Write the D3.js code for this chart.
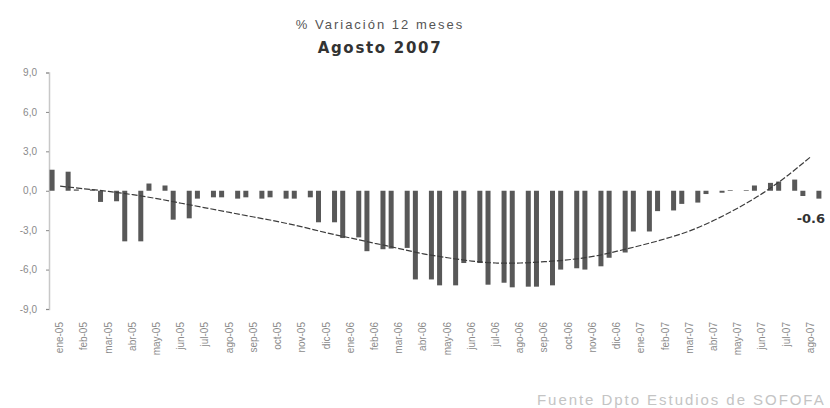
<!DOCTYPE html>
<html>
<head>
<meta charset="utf-8">
<script src="https://cdn.jsdelivr.net/npm/d3@7/dist/d3.min.js"></script>
<style>
  body { margin: 0; background: #fff; }
  svg { display: block; }
</style>
</head>
<body>
<svg id="chart" width="830" height="408"></svg>
<script>
// Months on the category axis
const months = [
  "ene-05","feb-05","mar-05","abr-05","may-05","jun-05","jul-05","ago-05",
  "sep-05","oct-05","nov-05","dic-05","ene-06","feb-06","mar-06","abr-06",
  "may-06","jun-06","jul-06","ago-06","sep-06","oct-06","nov-06","dic-06",
  "ene-07","feb-07","mar-07","abr-07","may-07","jun-07","jul-07","ago-07"
];

// % variación 12 meses, two bars per month
const serieA = [
   1.6,  0.1, -0.85, -3.85,  0.55, -2.2, -0.6, -0.5,
  -0.5, -0.5, -0.6,  -2.4,  -3.6,  -4.6, -4.4, -6.75,
  -7.2, -5.5, -7.15, -7.35, -7.3,  -6.0, -6.0, -5.1,
  -3.1, -1.55, -1.0, -0.25,  0.05,  0.4,  0.7, -0.4
];
const serieB = [
   1.45, 0.1, -0.8,  -3.85,  0.4,  -2.1, -0.5, -0.6,
  -0.6, -0.6, -0.5,  -2.4,  -3.55, -4.45, -4.35, -6.75,
  -7.2, -5.5, -7.0,  -7.3,  -7.2,  -5.9, -5.75, -4.7,
  -3.1, -1.5, -0.9,  -0.15,  0.05,  0.6,  0.85, -0.6
];

// Polynomial trend of the series, evaluated at each month
const trend = [
   0.35,  0.15, -0.05, -0.3,  -0.6,  -0.95, -1.3,  -1.65,
  -2.0,  -2.35, -2.75, -3.2,  -3.6,  -4.0,  -4.4,  -4.8,
  -5.1,  -5.35, -5.5,  -5.5,  -5.4,  -5.25, -5.0,  -4.6,
  -4.15, -3.65, -3.05, -2.25, -1.3,  -0.2,   1.1,   2.6
];

const yTicks = [-9, -6, -3, 0, 3, 6, 9];

const titleLine1 = "% Variación 12 meses";
const titleLine2 = "Agosto 2007";
const sourceText = "Fuente Dpto Estudios de SOFOFA";

const svg = d3.select("#chart");

const x0 = d3.scaleBand().domain(months).range([48, 823]);
const x1 = d3.scaleBand().domain(["a", "b"]).range([0, x0.bandwidth()])
  .paddingInner(0.69).paddingOuter(0.1);
const y = d3.scaleLinear().domain([-9, 9]).range([309, 72.5]);

// Titles
svg.append("text")
  .attr("x", 380).attr("y", 29)
  .attr("text-anchor", "middle")
  .style("font-family", "Liberation Sans, Arial, sans-serif")
  .style("font-size", "13px")
  .style("letter-spacing", "2px")
  .style("fill", "#555")
  .text(titleLine1);

svg.append("text")
  .attr("x", 380).attr("y", 53)
  .attr("text-anchor", "middle")
  .style("font-family", "DejaVu Sans, Verdana, sans-serif")
  .style("font-weight", "bold")
  .style("font-size", "15px")
  .style("letter-spacing", "1.7px")
  .style("fill", "#333")
  .text(titleLine2);

// Y axis
const yAxis = d3.axisLeft(y)
  .tickValues(yTicks)
  .tickSize(3)
  .tickPadding(9)
  .tickFormat(d => d.toFixed(1).replace(".", ","));

const gy = svg.append("g")
  .attr("transform", "translate(49,0)")
  .call(yAxis);
gy.select(".domain").attr("stroke", "#c8c8c8").attr("stroke-width", 1.5);
gy.selectAll(".tick line").attr("stroke", "#888");
gy.selectAll(".tick text")
  .style("font-family", "Liberation Sans, Arial, sans-serif")
  .style("font-size", "10px")
  .style("fill", "#8a8a8a");

// Bars
const rows = months.map((m, i) => ({ m, a: serieA[i], b: serieB[i] }));
const barW = 5;
const groups = svg.append("g").selectAll("g")
  .data(rows).join("g")
  .attr("transform", d => `translate(${x0(d.m)},0)`);

groups.selectAll("rect")
  .data(d => [{ k: "a", v: d.a }, { k: "b", v: d.b }])
  .join("rect")
  .attr("x", d => x1(d.k) + x1.bandwidth() / 2 - barW / 2)
  .attr("width", barW)
  .attr("y", d => y(Math.max(0, d.v)))
  .attr("height", d => Math.abs(y(d.v) - y(0)))
  .attr("fill", "#585858");

// Trend line
const line = d3.line()
  .x((d, i) => x0(months[i]) + x0.bandwidth() / 2)
  .y(d => y(d))
  .curve(d3.curveCatmullRom);

svg.append("path")
  .datum(trend)
  .attr("d", line)
  .attr("fill", "none")
  .attr("stroke", "#3c3c3c")
  .attr("stroke-width", 1.2)
  .attr("stroke-dasharray", "6,2");

// Month labels
svg.append("g").selectAll("text")
  .data(months).join("text")
  .attr("transform", d => `translate(${x0(d) + x0.bandwidth() / 2 + 3},322) rotate(-90)`)
  .attr("text-anchor", "end")
  .style("font-family", "Liberation Sans, Arial, sans-serif")
  .style("font-size", "10px")
  .style("fill", "#8a8a8a")
  .text(d => d);

// Value label of the latest month
const lastIdx = months.length - 1;
svg.append("text")
  .attr("x", x0(months[lastIdx]) + x0.bandwidth() / 2)
  .attr("y", y(serieB[lastIdx]) + 24)
  .attr("text-anchor", "middle")
  .style("font-family", "DejaVu Sans, Verdana, sans-serif")
  .style("font-weight", "bold")
  .style("font-size", "13px")
  .style("fill", "#333")
  .text(serieB[lastIdx].toFixed(1));

// Source
svg.append("text")
  .attr("x", 537).attr("y", 405)
  .style("font-family", "Liberation Sans, Arial, sans-serif")
  .style("font-size", "15px")
  .style("letter-spacing", "1.95px")
  .style("fill", "#c4c4c4")
  .text(sourceText);
</script>
</body>
</html>
